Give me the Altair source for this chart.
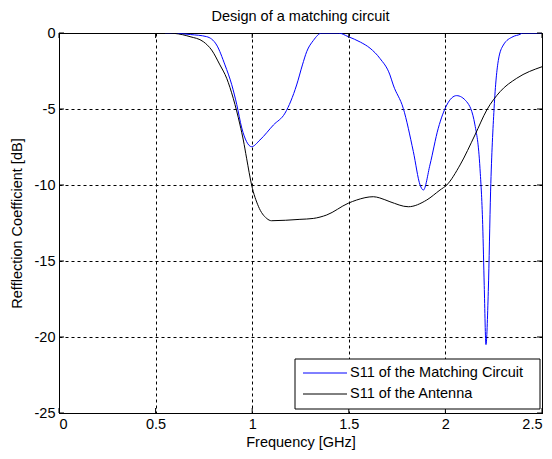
import altair as alt
import pandas as pd

# S11 of the matching circuit (frequency in GHz, value in dB)
freq_mc = [0.55, 0.60, 0.68, 0.764, 0.816, 0.859, 0.894, 0.92, 0.946, 0.971, 0.997,
           1.04, 1.11, 1.17, 1.23, 1.26, 1.282, 1.316, 1.36, 1.446, 1.497,
           1.56, 1.61, 1.661, 1.713, 1.73, 1.782, 1.834, 1.869, 1.886, 1.92, 1.963,
           2.007, 2.058, 2.11, 2.153, 2.179, 2.193, 2.201, 2.21, 2.222, 2.234, 2.252,
           2.274, 2.30, 2.35, 2.386, 2.40, 2.5]
s11_mc = [0.0, -0.02, -0.1, -0.24, -0.79, -2.1, -3.4, -4.7, -6.25, -7.15, -7.48,
          -7.04, -6.05, -5.27, -3.42, -2.1, -1.23, -0.5, 0.0, 0.0, -0.24,
          -0.6, -1.0, -1.67, -2.76, -3.42, -4.96, -7.8, -10.0, -10.33, -8.68, -6.27,
          -4.74, -4.12, -4.52, -6.05, -8.9, -12.6, -16.6, -20.5, -17.0, -10.4, -4.96,
          -1.8, -0.79, -0.24, -0.09, 0.0, 0.0]

# S11 of the antenna
freq_ant = [0.55, 0.60, 0.678, 0.747, 0.79, 0.833, 0.868, 0.902, 0.937, 0.954, 0.971,
            0.997, 1.032, 1.075, 1.10, 1.247, 1.316, 1.386, 1.497, 1.54, 1.627, 1.66,
            1.713, 1.808, 1.903, 1.972, 2.007, 2.076, 2.153, 2.214, 2.283, 2.369, 2.5]
s11_ant = [0.0, -0.03, -0.24, -0.57, -1.12, -2.1, -2.98, -4.3, -6.05, -7.04, -8.24,
           -10.0, -11.4, -12.2, -12.35, -12.26, -12.2, -11.97, -11.2, -10.99, -10.77, -10.85,
           -11.1, -11.43, -10.99, -10.33, -10.0, -8.68, -6.71, -5.07, -3.86, -2.98, -2.22]

series_names = ["S11 of the Matching Circuit", "S11 of the Antenna"]
series_colors = ["#0000ff", "#000000"]

x_ticks = [0, 0.5, 1, 1.5, 2, 2.5]
y_ticks = [-25, -20, -15, -10, -5, 0]

W, H = 483, 380
FONT = "Liberation Sans"
FS = 14.5

df = pd.concat([
    pd.DataFrame({"f": freq_mc, "s": s11_mc, "series": series_names[0], "o": range(len(freq_mc))}),
    pd.DataFrame({"f": freq_ant, "s": s11_ant, "series": series_names[1], "o": range(len(freq_ant))}),
])

xs = alt.Scale(domain=[0, 2.5], nice=False, zero=False)
ys = alt.Scale(domain=[-25, 0], nice=False, zero=False)

lines = alt.Chart(df).mark_line(strokeWidth=1, interpolate="monotone", clip=True).encode(
    x=alt.X("f:Q", scale=xs, title="Frequency [GHz]",
            axis=alt.Axis(values=x_ticks, format="~g", tickSize=0, labelPadding=4,
                          titlePadding=5, grid=True)),
    y=alt.Y("s:Q", scale=ys, title="Refflection Coefficient [dB]",
            axis=alt.Axis(values=y_ticks, labelExpr="'' + datum.value", tickSize=0,
                          labelPadding=4, titlePadding=10, grid=True)),
    color=alt.Color("series:N", scale=alt.Scale(domain=series_names, range=series_colors),
                    legend=None),
    order="o:Q",
)

xt = pd.DataFrame({"v": x_ticks})
yt = pd.DataFrame({"v": y_ticks})
tick_bottom = alt.Chart(xt).mark_rule(color="black").encode(
    x=alt.X("v:Q", scale=xs), y=alt.value(H), y2=alt.value(H - 5))
tick_top = alt.Chart(xt).mark_rule(color="black").encode(
    x=alt.X("v:Q", scale=xs), y=alt.value(0), y2=alt.value(5))
tick_left = alt.Chart(yt).mark_rule(color="black").encode(
    y=alt.Y("v:Q", scale=ys), x=alt.value(0), x2=alt.value(5))
tick_right = alt.Chart(yt).mark_rule(color="black").encode(
    y=alt.Y("v:Q", scale=ys), x=alt.value(W), x2=alt.value(W - 5))

# manual legend box (MATLAB style)
LX, LY, LW, LH = 236, 326, 245, 50
leg_box = alt.Chart(pd.DataFrame({"k": [0]})).mark_rect(
    fill="white", stroke="black", strokeWidth=1).encode(
    x=alt.value(LX), x2=alt.value(LX + LW), y=alt.value(LY), y2=alt.value(LY + LH))
leg_layers = [leg_box]
for i, (name, col) in enumerate(zip(series_names, series_colors)):
    ry = LY + 14 + i * 21
    one = pd.DataFrame({"label": [name]})
    leg_layers.append(alt.Chart(one).mark_rule(color=col, strokeWidth=1).encode(
        x=alt.value(LX + 8), x2=alt.value(LX + 52), y=alt.value(ry)))
    leg_layers.append(alt.Chart(one).mark_text(
        align="left", baseline="middle", font=FONT, fontSize=FS, color="black").encode(
        x=alt.value(LX + 55), y=alt.value(ry), text="label:N"))

chart = alt.layer(lines, tick_bottom, tick_top, tick_left, tick_right, *leg_layers).properties(
    width=W, height=H,
    title=alt.TitleParams("Design of a matching circuit", font=FONT, fontSize=FS,
                          fontWeight="normal", color="black", offset=1, frame="group"),
    autosize=alt.AutoSizeParams(type="none"),
    padding={"left": 51, "top": 25, "right": 2, "bottom": 38},
    background="white",
).configure_view(stroke="black", strokeWidth=1).configure_axis(
    domainColor="black", labelFont=FONT, titleFont=FONT, labelFontSize=FS, titleFontSize=FS,
    labelColor="black", titleColor="black", titleFontWeight="normal",
    gridColor="black", gridDash=[3, 3], gridOpacity=1, gridWidth=1,
)

chart.save("out.html", embed_options={"renderer": "svg", "actions": False})
